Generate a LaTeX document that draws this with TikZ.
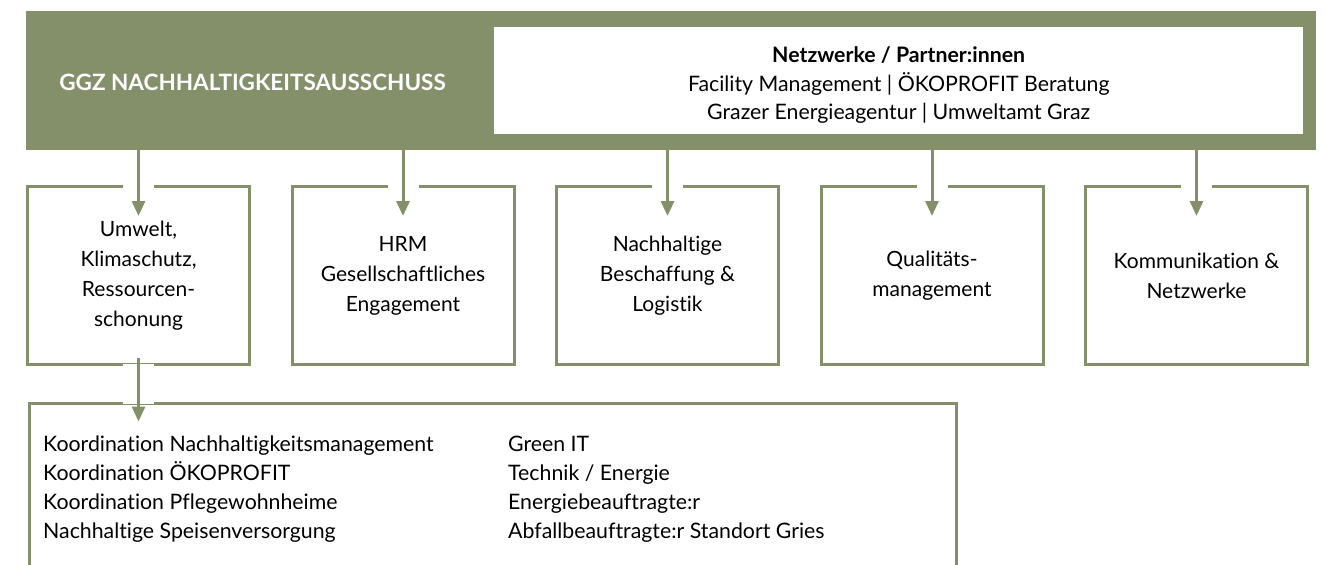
\documentclass[tikz,border=0pt]{standalone}
\usepackage{fontspec}
\setmainfont{Lato}[Ligatures={NoCommon,NoRare,NoDiscretionary}]
\usetikzlibrary{arrows.meta,calc}
\definecolor{ggzgreen}{RGB}{132,144,106}
\begin{document}
\begin{tikzpicture}[x=1pt,y=-1pt,
  txt/.style={font=\fontsize{21}{30}\selectfont, text=black, inner sep=0pt},
  unit/.style={draw=ggzgreen, line width=3pt, fill=white, minimum width=222pt,
    minimum height=178pt, inner sep=0pt, align=center, txt},
  link/.style={draw=ggzgreen, line width=3pt, -{Triangle[width=13pt,length=15pt]}},
  gap/.style={draw=white, line width=5pt},
  list/.style={txt, align=left, anchor=north west, font=\fontsize{21.3}{28.8}\selectfont}]
\clip (0,0) rectangle (1326,565);
\fill[white] (0,0) rectangle (1326,565);

% committee banner with the partner panel
\node[fill=ggzgreen, minimum width=1290pt, minimum height=139pt, inner sep=0pt,
  anchor=north west] (banner) at (26,11) {};
\node[font=\fontsize{22.5}{26}\selectfont\bfseries, text=white, inner sep=0pt]
  (title) at (252.5,82.5) {GGZ NACHHALTIGKEITSAUSSCHUSS};
\node[fill=white, minimum width=809pt, minimum height=107pt, inner sep=0pt,
  anchor=north west] (partners) at (494,27) {};
\node[txt, align=center, font=\fontsize{21.3}{28.5}\selectfont] (ptext)
  at ($(partners.center)+(0,4.5)$)
  {\textbf{Netzwerke / Partner:innen}\\
   Facility Management | ÖKOPROFIT Beratung\\
   Grazer Energieagentur | Umweltamt Graz};

% working groups
\node[unit] (u1) at (138.5,275.5) {Umwelt,\\Klimaschutz,\\Ressourcen-\\schonung};
\node[unit] (u2) at (403,275.5) {HRM\\Gesellschaftliches\\Engagement};
\node[unit] (u3) at (667.5,275.5) {Nachhaltige\\Beschaffung \&\\Logistik};
\node[unit] (u4) at (932,275.5) {Qualitäts-\\management};
\node[unit] (u5) at (1196.5,275.5) {Kommunikation \&\\Netzwerke};

% tasks of the environment group (open towards the bottom)
\node[draw=ggzgreen, line width=3pt, fill=white, minimum width=927pt,
  minimum height=220pt, inner sep=0pt, anchor=north west] (tasks) at (27.5,401.5) {};
\node[list] (left) at (43,436)
  {Koordination Nachhaltigkeitsmanagement\\Koordination ÖKOPROFIT\\
   Koordination Pflegewohnheime\\Nachhaltige Speisenversorgung};
\node[list] (right) at (508,436)
  {Green IT\\Technik / Energie\\Energiebeauftragte:r\\Abfallbeauftragte:r Standort Gries};

% arrows from the committee into each group, breaking the frame line
\foreach \u in {u1,u2,u3,u4,u5}{
  \draw[gap] ($(\u.north)+(-15.5,0)$) -- ($(\u.north)+(15.5,0)$);
  \draw[link] (\u.north |- banner.south) -- ($(\u.north)+(0,31)$);
}
\draw[gap] ($(u1.south)+(-15.5,0)$) -- ($(u1.south)+(15.5,0)$);
\draw[gap] ($(u1.south |- tasks.north)+(-15.5,0)$) -- ($(u1.south |- tasks.north)+(15.5,0)$);
\draw[link] ($(u1.south)+(0,-8)$) -- ($(u1.south |- tasks.north)+(0,20)$);
\end{tikzpicture}
\end{document}
